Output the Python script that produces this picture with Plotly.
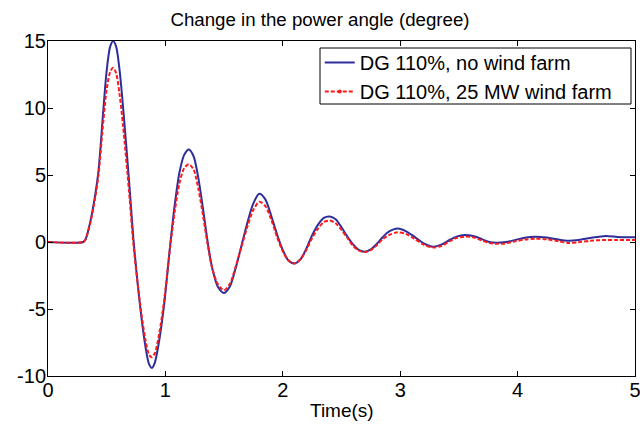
import plotly.graph_objects as go

# Time (s)
t = [0.00, 0.30, 0.32, 0.36, 0.40, 0.43, 0.47, 0.50, 0.53, 0.555, 0.58, 0.61, 0.64, 0.69, 0.73,
     0.79, 0.83, 0.86, 0.885, 0.91, 0.95, 0.99, 1.04, 1.08, 1.12, 1.16, 1.20, 1.24, 1.28, 1.32,
     1.36, 1.40, 1.45, 1.50, 1.55, 1.60, 1.65, 1.70, 1.75, 1.80, 1.85, 1.90, 1.95, 2.00, 2.05,
     2.10, 2.15, 2.20, 2.25, 2.30, 2.35, 2.40, 2.45, 2.50, 2.55, 2.60, 2.65, 2.70, 2.75, 2.80,
     2.85, 2.90, 2.98, 3.05, 3.12, 3.20, 3.28, 3.35, 3.42, 3.48, 3.55, 3.62, 3.70, 3.76, 3.82,
     3.90, 3.98, 4.06, 4.15, 4.25, 4.35, 4.43, 4.52, 4.62, 4.75, 4.85, 4.95, 5.00]

# DG 110%, no wind farm
no_wind = [0, 0, 0.2, 1.5, 3.4, 5.3, 9.7, 12.8, 14.6, 15.0, 14.6, 12.8, 10.0, 4.6, 0.0,
           -5.2, -7.8, -9.1, -9.4, -9.0, -7.2, -4.6, -0.3, 2.8, 5.2, 6.5, 6.9, 6.4, 4.8, 2.5,
           0.0, -2.0, -3.4, -3.8, -3.3, -1.9, -0.2, 1.5, 2.9, 3.6, 3.2, 2.0, 0.6, -0.6, -1.4,
           -1.6, -1.3, -0.5, 0.5, 1.3, 1.8, 1.9, 1.7, 1.1, 0.4, -0.2, -0.6, -0.72, -0.55, -0.15,
           0.35, 0.75, 1.0, 0.8, 0.4, -0.1, -0.35, -0.2, 0.15, 0.4, 0.52, 0.45, 0.2, 0.0, -0.05,
           0.0, 0.15, 0.32, 0.4, 0.33, 0.18, 0.1, 0.15, 0.3, 0.45, 0.38, 0.35, 0.35]

# DG 110%, 25 MW wind farm
with_wind = [0, 0, 0.2, 1.4, 3.2, 5.0, 8.9, 11.4, 12.7, 13.0, 12.6, 11.0, 8.6, 3.8, -0.4,
             -5.0, -7.3, -8.4, -8.6, -8.3, -6.7, -4.3, -0.4, 2.3, 4.4, 5.5, 5.8, 5.4, 4.0, 2.0,
             -0.2, -2.0, -3.2, -3.6, -3.1, -1.8, -0.3, 1.2, 2.4, 3.0, 2.7, 1.7, 0.4, -0.7, -1.4,
             -1.6, -1.3, -0.6, 0.3, 1.0, 1.5, 1.6, 1.4, 0.9, 0.3, -0.3, -0.65, -0.75, -0.6, -0.25,
             0.2, 0.5, 0.72, 0.6, 0.25, -0.2, -0.4, -0.3, 0.05, 0.3, 0.4, 0.35, 0.1, -0.08, -0.13,
             -0.1, 0.05, 0.18, 0.25, 0.2, 0.05, -0.07, -0.02, 0.1, 0.15, 0.15, 0.15, 0.15]

x_ticks = [0, 1, 2, 3, 4, 5]
y_ticks = [-10, -5, 0, 5, 10, 15]

BLUE = "#2E2E9A"
RED = "#FF1A1A"
FONT = "Liberation Sans, Arial, sans-serif"

fig = go.Figure()
fig.add_trace(go.Scatter(x=t, y=no_wind, mode="lines", name="DG 110%, no wind farm",
                         line=dict(color=BLUE, width=2, shape="spline", smoothing=0.8)))
fig.add_trace(go.Scatter(x=t, y=with_wind, mode="lines", name="DG 110%, 25 MW wind farm",
                         showlegend=False,
                         line=dict(color=RED, width=2, dash="4px,2px", shape="spline", smoothing=0.8)))
# legend entry for the dashed red series (dash + dot marker like the original)
fig.add_trace(go.Scatter(x=[None], y=[None], mode="lines+markers", name="DG 110%, 25 MW wind farm",
                         line=dict(color=RED, width=2, dash="4px,2px"),
                         marker=dict(color=RED, size=4)))

axis_common = dict(showline=True, linecolor="black", linewidth=1, mirror="ticks",
                   ticks="inside", ticklen=5, tickcolor="black", showgrid=False, zeroline=False,
                   automargin=False, ticklabeloverflow="allow",
                   tickfont=dict(family=FONT, size=20, color="black"))

fig.update_xaxes(range=[0, 5], tickvals=x_ticks, ticktext=[str(v) for v in x_ticks],
                 ticklabelstandoff=-4, **axis_common)
fig.update_yaxes(range=[-10, 15], tickvals=y_ticks, ticktext=[str(v) for v in y_ticks],
                 ticklabelstandoff=-3, **axis_common)

fig.add_annotation(text="Time(s)", xref="paper", yref="paper", x=0.5, y=-34 / 335,
                   xanchor="center", yanchor="middle", showarrow=False,
                   font=dict(family=FONT, size=19, color="black"))

# legend frame (MATLAB-style compact box)
fig.add_shape(type="rect", xref="paper", yref="paper",
              x0=(320 - 48) / 587, x1=(631 - 48) / 587,
              y0=(376 - 104) / 335, y1=(376 - 48) / 335,
              line=dict(color="black", width=1), fillcolor="white", layer="above")

fig.update_layout(
    width=640, height=428,
    margin=dict(l=48, r=5, t=41, b=52),
    paper_bgcolor="white", plot_bgcolor="white",
    title=dict(text="Change in the power angle (degree)", x=0.5, xanchor="center",
               y=1 - 19 / 428, yanchor="middle", font=dict(family=FONT, size=18.7, color="black")),
    legend=dict(x=0.463, y=(376 - 43) / 335, xanchor="left", yanchor="top",
                bgcolor="rgba(0,0,0,0)", borderwidth=0,
                font=dict(family=FONT, size=20, color="black"),
                tracegroupgap=0, itemwidth=30),
    showlegend=True,
)

fig.write_html("out.html", config={"displayModeBar": False},
               post_script="document.body.style.margin='0';document.body.style.padding='0';")
